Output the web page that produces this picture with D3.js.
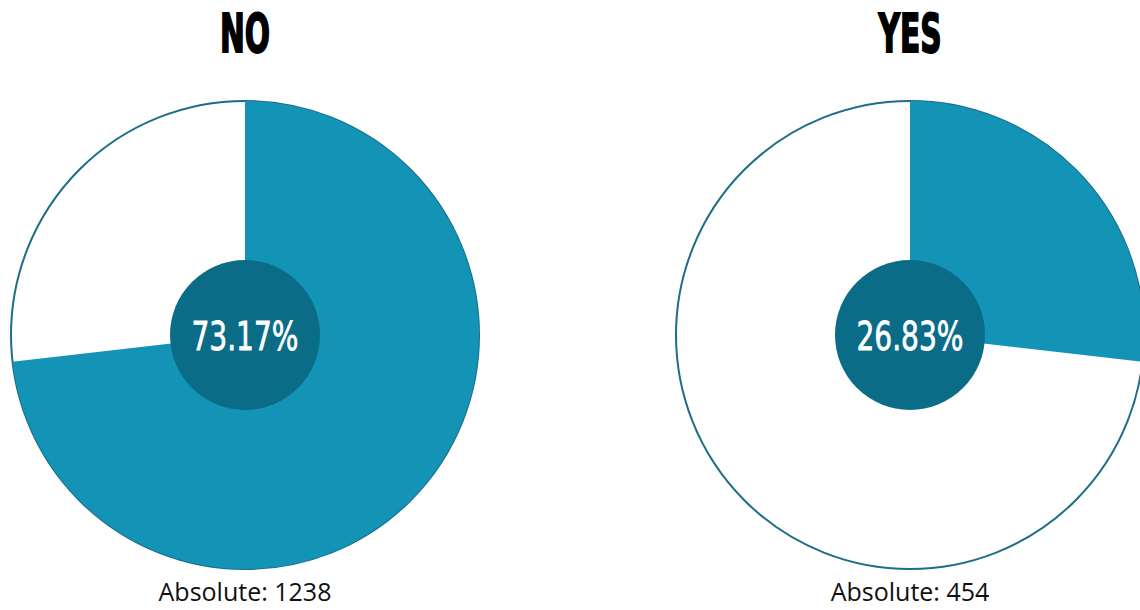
<!DOCTYPE html>
<html><head><meta charset="utf-8">
<script src="https://cdn.jsdelivr.net/npm/d3@7"></script>
<style>
html,body{margin:0;padding:0;background:#fff;overflow:hidden;}
</style></head>
<body>
<svg id="chart" width="1140" height="610"></svg>
<script>
const categories = ["NO", "YES"];
const percentages = [73.17, 26.83];
const absolutes = [1238, 454];

const W = 1140, H = 610;
const svg = d3.select("#chart");
const cx = d3.scalePoint().domain(categories).range([245, 910]);
const R = 234, rInner = 75, cy = 335;
const pie = d3.pie().sort(null).value(d => d);
const arc = d3.arc().innerRadius(0).outerRadius(R);

categories.forEach((c, i) => {
  const g = svg.append("g").attr("transform", `translate(${cx(c)},${cy})`);
  const arcs = pie([percentages[i], 100 - percentages[i]]);
  g.append("circle").attr("r", R).attr("fill", "#fff")
    .attr("stroke", "#1c6e89").attr("stroke-width", 2);
  g.append("path").attr("d", arc(arcs[0])).attr("fill", "#1393b5");
  g.append("circle").attr("r", rInner).attr("fill", "#0b6c88");
  g.append("text").attr("transform", "translate(0,15) scale(0.72,1)")
    .attr("text-anchor", "middle")
    .attr("fill", "#fff")
    .attr("stroke", "#fff").attr("stroke-width", 0.8)
    .style("font-family", "'DejaVu Sans',sans-serif")
    .style("font-size", "39px")
    .text(percentages[i].toFixed(2) + "%");
  svg.append("text").attr("transform", `translate(${cx(c)},52) scale(0.56,1)`)
    .attr("text-anchor", "middle")
    .attr("fill", "#000")
    .attr("stroke", "#000").attr("stroke-width", 2)
    .style("font-family", "'DejaVu Sans',sans-serif")
    .style("font-weight", "bold")
    .style("font-size", "53px")
    .text(c);
  svg.append("text").attr("x", cx(c)).attr("y", 601).attr("text-anchor", "middle")
    .attr("fill", "#111")
    .style("font-family", "'Open Sans',sans-serif")
    .style("font-size", "25px")
    .text("Absolute: " + absolutes[i]);
});
</script>
</body></html>
